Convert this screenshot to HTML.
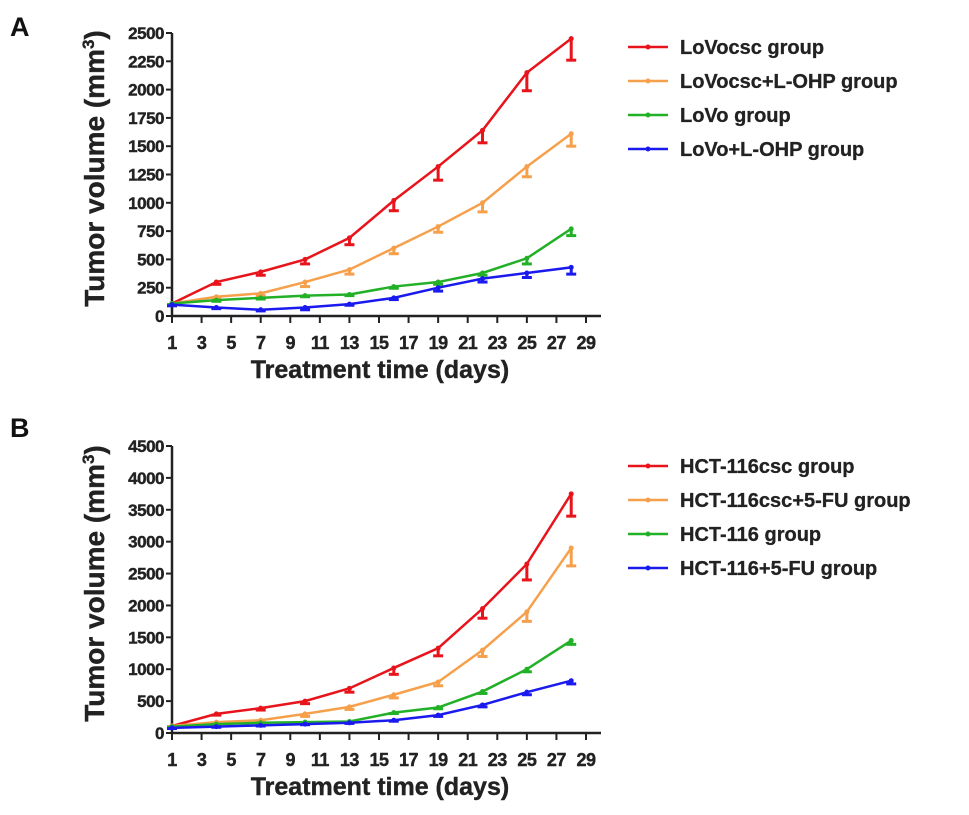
<!DOCTYPE html>
<html><head><meta charset="utf-8"><style>
html,body{margin:0;padding:0;background:#fff}
svg{display:block;font-family:"Liberation Sans",Arial,sans-serif;font-weight:bold}
</style></head><body>
<svg id="fig" width="969" height="815" viewBox="0 0 969 815" xmlns="http://www.w3.org/2000/svg">
<text x="10" y="36" font-size="27" fill="#111">A</text>
<text x="10" y="437" font-size="27" fill="#111">B</text>
</svg>
<script>
const days=[1,4,7,10,13,16,19,22,25,28];
const xTicks=[1,3,5,7,9,11,13,15,17,19,21,23,25,27,29];
const colors=["#e8141c","#f6a04c","#22b027","#1a1aee"];
const namesA=["LoVocsc group","LoVocsc+L-OHP group","LoVo group","LoVo+L-OHP group"];
const namesB=["HCT-116csc group","HCT-116csc+5-FU group","HCT-116 group","HCT-116+5-FU group"];
const aRed=[110,300,390,500,690,1020,1320,1640,2150,2450];
const aOrange=[110,170,200,300,410,600,790,1000,1320,1610];
const aGreen=[110,140,160,180,190,260,300,380,510,770];
const aBlue=[100,75,55,75,105,160,250,330,380,430];
const aErr=[[10,20,30,40,60,90,120,110,160,190],[10,15,20,40,40,50,50,80,90,110],[10,10,10,10,10,15,20,20,50,60],[10,10,10,20,10,15,30,30,40,60]];
const bRed=[110,300,390,500,700,1020,1330,1950,2650,3750];
const bOrange=[110,170,200,300,410,600,800,1300,1900,2900];
const bGreen=[100,140,160,170,180,320,400,650,1000,1450];
const bBlue=[80,100,120,140,160,200,280,440,640,820];
const bErr=[[10,20,30,40,60,100,120,150,250,350],[10,15,20,40,40,50,60,100,150,280],[10,10,10,10,10,15,20,30,40,60],[10,10,10,10,10,15,20,30,40,50]];
const aTicks=[0,250,500,750,1000,1250,1500,1750,2000,2250,2500];
const bTicks=[0,500,1000,1500,2000,2500,3000,3500,4000,4500];

const NS="http://www.w3.org/2000/svg";
const svg=document.getElementById('fig');
function mk(tag,attrs,parent,txt){const e=document.createElementNS(NS,tag);for(const k in attrs)e.setAttribute(k,attrs[k]);if(txt!==undefined)e.textContent=txt;(parent||svg).appendChild(e);return e;}

function panel(p,y0,y1,ymax,ticks,series,errs,names,legY){
  const g=mk('g',{});
  
  
  const X=d=>172+(d-1)*(586-172)/28;
  const Y=v=>y0-(v/ymax)*(y0-y1);
  const ax=mk('path',{d:`M172 ${y1} V${y0} H601`,stroke:'#222','stroke-width':2.5,fill:'none'},g);
  
  
  ticks.forEach(t=>{
    mk('line',{x1:166,x2:172,y1:Y(t),y2:Y(t),stroke:'#222','stroke-width':2},g);
    const tl=mk('text',{x:164,y:Y(t)+6,'font-size':17,'text-anchor':'end',fill:'#222','letter-spacing':'-0.5',stroke:'#222','stroke-width':0.4},g,String(t));
    
    
  });
  xTicks.forEach(t=>{
    mk('line',{x1:X(t),x2:X(t),y1:y0,y2:y0+7,stroke:'#222','stroke-width':2},g);
    const tl=mk('text',{x:X(t),y:y0+33,'font-size':18,'text-anchor':'middle',fill:'#222','letter-spacing':'-0.5',stroke:'#222','stroke-width':0.4},g,String(t));
    
    
  });
  const xt=mk('text',{x:380,y:y0+62,'font-size':25,'text-anchor':'middle',fill:'#222',stroke:'#222','stroke-width':0.4},g,'Treatment time (days)');
  
  
  const cy=(y0+y1)/2-6;
  const yt=mk('text',{x:0,y:0,'font-size':28,'text-anchor':'middle',fill:'#222',stroke:'#222','stroke-width':0.4,transform:`translate(104 ${cy}) rotate(-90)`},g);
  
  
  yt.appendChild(document.createTextNode('Tumor volume (mm'));
  mk('tspan',{dy:-10,'font-size':17},yt,'3');
  mk('tspan',{dy:10},yt,')');
  series.forEach((s,i)=>{
    const pts=s.map((v,j)=>X(days[j])+','+Y(v)).join(' ');
    const l=mk('polyline',{points:pts,fill:'none',stroke:colors[i],'stroke-width':2.5},g);
    
    
    s.forEach((v,j)=>{
      const x=X(days[j]),y=Y(v),yl=Y(v-errs[i][j]);
      mk('line',{x1:x,x2:x,y1:y,y2:yl,stroke:colors[i],'stroke-width':3},g);
      mk('line',{x1:x-5,x2:x+5,y1:yl,y2:yl,stroke:colors[i],'stroke-width':3},g);
      const c=mk('circle',{cx:x,cy:y,r:2.5,fill:colors[i]},g);
      
      
    });
  });
  names.forEach((n,i)=>{
    const y=legY+i*34;
    const le=mk('g',{},g);
    
    
    mk('line',{x1:628,x2:668,y1:y,y2:y,stroke:colors[i],'stroke-width':2.5},le);
    mk('circle',{cx:648,cy:y,r:2.5,fill:colors[i]},le);
    mk('text',{x:680,y:y+7,'font-size':20,fill:'#222',stroke:'#222','stroke-width':0.3},le,n);
  });
}
panel('a',316,33,2500,aTicks,[aRed,aOrange,aGreen,aBlue],aErr,namesA,47);
panel('b',733,446,4500,bTicks,[bRed,bOrange,bGreen,bBlue],bErr,namesB,466);
</script>
</body></html>
